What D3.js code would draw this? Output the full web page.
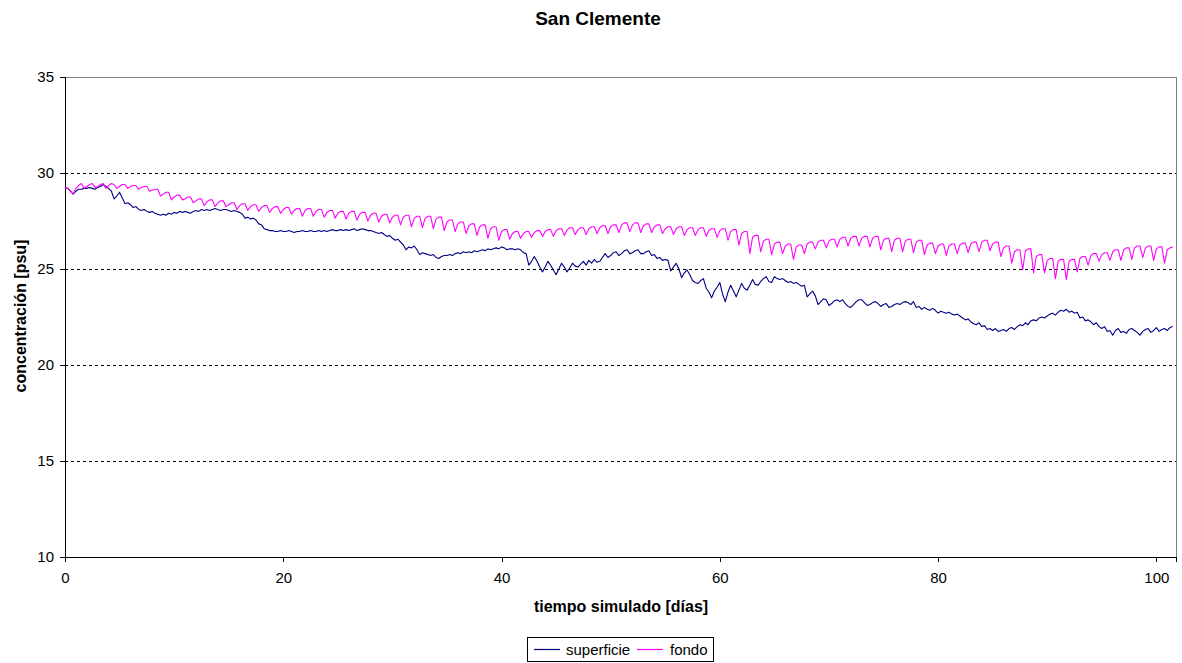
<!DOCTYPE html>
<html>
<head>
<meta charset="utf-8">
<script src="https://cdn.jsdelivr.net/npm/d3@7"></script>
<style>
  html, body { margin: 0; padding: 0; background: #fff; }
  svg { display: block; font-family: "Liberation Sans", Arial, sans-serif; }
</style>
</head>
<body>
<svg id="chart" width="1182" height="663"></svg>
<script>
// Salinity at San Clemente, sampled every 6 hours (0.25 day)
const stepDays = 0.25;

const superficie = [
  29.25,29.2,29.05,28.9, 29.05,29.15,29.15,29.2, 29.2,29.25,29.2,29.15, 29.25,29.3,29.4,29.3,
  29.2,29.05,28.65,28.8, 29.0,28.7,28.4,28.45, 28.35,28.2,28.25,28.1, 28.05,28.1,28.0,27.95,
  28.0,27.9,27.85,27.8, 27.85,27.8,27.9,27.85, 27.95,27.9,28.0,27.95, 28.0,27.95,27.9,28.0,
  28.05,28.0,28.1,28.05, 28.1,28.05,28.1,28.15, 28.1,28.05,28.1,28.1, 28.05,28.0,28.05,28.0,
  27.95,27.85,27.65,27.7, 27.6,27.65,27.55,27.35, 27.3,27.1,27.05,27.0, 27.0,26.95,26.95,27.0,
  26.95,26.95,27.0,26.95, 26.9,26.95,26.95,27.0, 26.95,26.95,27.0,26.95, 26.95,27.0,26.95,27.0,
  26.95,27.0,27.05,27.0, 27.0,27.05,27.0,27.05, 27.0,27.05,27.1,27.0, 27.05,27.1,27.05,27.0,
  27.0,26.95,26.9,26.85, 26.9,26.8,26.7,26.75, 26.6,26.5,26.55,26.4, 26.25,26.0,26.15,26.1,
  26.2,26.0,25.75,25.85, 25.8,25.75,25.7,25.75, 25.6,25.55,25.65,25.7, 25.7,25.75,25.7,25.8,
  25.85,25.8,25.9,25.85, 25.9,25.85,25.95,25.9, 25.95,26.0,25.95,26.05, 26.0,26.05,26.1,26.05,
  26.15,26.1,26.0,26.05, 26.05,26.0,26.05,26.0, 25.85,25.8,25.2,25.4, 25.65,25.4,25.1,24.85,
  25.1,25.4,25.2,24.95, 24.7,25.0,25.3,25.1, 24.85,25.05,25.3,25.15, 25.1,25.25,25.4,25.2,
  25.45,25.3,25.5,25.35, 25.4,25.6,25.8,25.6, 25.7,25.85,25.9,25.7, 25.8,25.95,26.0,25.8,
  25.85,25.95,26.0,25.8, 25.8,25.9,25.95,25.7, 25.75,25.55,25.6,25.45, 25.5,25.45,24.9,25.1,
  25.3,25.0,24.55,24.8, 24.95,24.7,24.4,24.3, 24.25,24.4,24.5,24.0, 23.8,23.5,23.85,24.05,
  24.3,23.7,23.3,23.8, 24.15,23.85,23.55,23.9, 24.25,24.0,23.9,24.15, 24.45,24.2,24.15,24.35,
  24.5,24.6,24.35,24.3, 24.6,24.5,24.45,24.5, 24.4,24.3,24.35,24.25, 24.3,24.2,24.1,24.15,
  23.55,23.7,23.85,23.6, 23.15,23.3,23.45,23.4, 23.1,23.2,23.35,23.4, 23.3,23.4,23.2,23.05,
  23.0,23.15,23.3,23.4, 23.4,23.25,23.1,23.15, 23.25,23.3,23.2,23.05, 23.15,23.2,23.0,23.05,
  23.15,23.2,23.15,23.25, 23.3,23.25,23.15,23.3, 23.0,23.05,22.9,23.0, 22.9,22.85,22.95,22.85,
  22.7,22.8,22.75,22.7, 22.75,22.65,22.6,22.65, 22.55,22.45,22.35,22.4, 22.25,22.15,22.1,22.2,
  22.0,22.05,21.85,21.9, 21.8,21.9,21.75,21.8, 21.85,21.75,21.9,21.95, 21.85,22.0,22.1,22.05,
  22.2,22.1,22.3,22.35, 22.3,22.45,22.5,22.45, 22.55,22.65,22.7,22.6, 22.75,22.85,22.8,22.9,
  22.75,22.8,22.7,22.75, 22.45,22.5,22.3,22.35, 22.25,22.1,22.2,22.0, 21.9,22.0,21.75,21.8,
  21.55,21.8,21.9,21.7, 21.75,21.65,21.85,21.9, 21.8,21.7,21.55,21.75, 21.85,21.9,21.7,21.8,
  21.95,21.75,21.85,21.9, 21.8,21.95,22.0
];

const fondo = [
  29.25,29.2,29.05,28.9, 29.2,29.35,29.45,29.2, 29.3,29.4,29.45,29.25, 29.3,29.4,29.45,29.2,
  29.35,29.45,29.4,29.2, 29.3,29.4,29.4,29.2, 29.3,29.35,29.35,29.15, 29.25,29.3,29.3,29.05,
  29.1,29.15,29.15,28.8, 28.9,29.0,29.0,28.6, 28.75,28.85,28.85,28.6, 28.65,28.75,28.75,28.45,
  28.55,28.65,28.65,28.3, 28.5,28.6,28.6,28.25, 28.45,28.55,28.55,28.25, 28.35,28.45,28.45,28.1,
  28.3,28.4,28.4,28.05, 28.25,28.35,28.35,28.0, 28.2,28.3,28.3,27.95, 28.15,28.25,28.25,27.9,
  28.1,28.2,28.2,27.85, 28.05,28.15,28.15,27.75, 28.05,28.15,28.15,27.75, 28.0,28.1,28.1,27.7,
  27.95,28.05,28.05,27.65, 27.9,28.0,28.0,27.6, 27.9,28.0,28.0,27.55, 27.85,27.95,27.95,27.5,
  27.8,27.9,27.9,27.45, 27.75,27.85,27.85,27.4, 27.7,27.8,27.8,27.3, 27.7,27.8,27.8,27.2,
  27.65,27.75,27.75,27.15, 27.65,27.75,27.75,27.1, 27.6,27.7,27.7,27.0, 27.45,27.55,27.55,26.95,
  27.35,27.45,27.45,26.85, 27.25,27.35,27.35,26.75, 27.2,27.3,27.3,26.6, 27.1,27.2,27.2,26.5,
  26.95,27.05,27.05,26.55, 26.85,26.95,26.95,26.6, 26.85,26.95,26.95,26.65, 26.9,27.0,27.0,26.7,
  26.95,27.05,27.05,26.7, 27.0,27.1,27.1,26.75, 27.05,27.15,27.15,26.8, 27.05,27.15,27.15,26.8,
  27.1,27.2,27.2,26.85, 27.15,27.25,27.25,26.85, 27.2,27.3,27.3,26.9, 27.3,27.4,27.4,26.95,
  27.3,27.4,27.4,26.9, 27.25,27.35,27.35,26.9, 27.2,27.3,27.3,26.85, 27.1,27.2,27.2,26.8,
  27.1,27.2,27.2,26.75, 27.05,27.15,27.15,26.75, 27.05,27.15,27.15,26.7, 27.0,27.1,27.1,26.65,
  27.0,27.1,27.1,26.5, 26.95,27.05,27.05,26.25, 26.85,26.95,26.95,25.8, 26.65,26.75,26.75,25.9,
  26.45,26.55,26.55,25.75, 26.3,26.4,26.4,25.8, 26.2,26.3,26.3,25.5, 26.15,26.25,26.25,25.8,
  26.3,26.4,26.4,26.05, 26.4,26.5,26.5,26.1, 26.45,26.55,26.55,26.15, 26.55,26.65,26.65,26.2,
  26.6,26.7,26.7,26.2, 26.6,26.7,26.7,26.15, 26.6,26.7,26.7,26.0, 26.5,26.6,26.6,25.9,
  26.5,26.6,26.6,25.9, 26.45,26.55,26.55,25.85, 26.4,26.5,26.5,25.75, 26.25,26.35,26.35,25.8,
  26.2,26.3,26.3,25.7, 26.2,26.3,26.3,25.8, 26.25,26.35,26.35,25.85, 26.3,26.4,26.4,25.9,
  26.4,26.5,26.5,25.95, 26.3,26.4,26.4,25.65, 26.1,26.2,26.2,25.3, 25.9,26.0,26.0,24.95,
  25.95,26.05,26.05,24.8, 25.65,25.75,25.75,24.8, 25.45,25.55,25.55,24.5, 25.4,25.5,25.5,24.45,
  25.4,25.5,25.5,24.85, 25.55,25.65,25.65,25.2, 25.7,25.8,25.8,25.4, 25.75,25.85,25.85,25.45,
  25.9,26.0,26.0,25.45, 26.0,26.1,26.1,25.5, 26.1,26.2,26.2,25.6, 26.1,26.2,26.2,25.45,
  26.05,26.15,26.15,25.3, 26.0,26.1,26.15
];

const yTicks = [10, 15, 20, 25, 30, 35];
const xTicks = [0, 20, 40, 60, 80, 100];
const gridValues = [15, 20, 25, 30];

const seriesNames = ["superficie", "fondo"];
const seriesColors = ["#000080", "#FF00FF"];

const svg = d3.select("#chart");
const plot = { left: 65, top: 77, right: 1176, bottom: 557 };

const x = d3.scaleLinear().domain([0, 101.8]).range([plot.left, plot.right]);
const y = d3.scaleLinear().domain([10, 35]).range([plot.bottom, plot.top]);

// Title
svg.append("text")
  .attr("x", 598).attr("y", 25)
  .attr("text-anchor", "middle")
  .attr("font-size", 19).attr("font-weight", "bold")
  .text("San Clemente");

// Dashed horizontal gridlines
svg.append("g").selectAll("line").data(gridValues).join("line")
  .attr("x1", plot.left).attr("x2", plot.right)
  .attr("y1", d => y(d)).attr("y2", d => y(d))
  .attr("stroke", "#000").attr("stroke-width", 1)
  .attr("stroke-dasharray", "3,3")
  .attr("shape-rendering", "crispEdges");

// Top and right frame in grey
svg.append("path")
  .attr("d", `M${plot.left},${plot.top}H${plot.right}V${plot.bottom}`)
  .attr("fill", "none").attr("stroke", "#808080")
  .attr("shape-rendering", "crispEdges");

// Axes
const xAxis = d3.axisBottom(x).tickValues(xTicks).tickSize(5).tickPadding(10);
const yAxis = d3.axisLeft(y).tickValues(yTicks).tickSize(5).tickPadding(6);

const gx = svg.append("g")
  .attr("transform", `translate(0,${plot.bottom})`)
  .call(xAxis);
const gy = svg.append("g")
  .attr("transform", `translate(${plot.left},0)`)
  .call(yAxis);

[gx, gy].forEach(g => {
  g.select(".domain").attr("stroke", "#000").attr("shape-rendering", "crispEdges");
  g.selectAll(".tick line").attr("stroke", "#000").attr("shape-rendering", "crispEdges");
  g.selectAll(".tick text")
    .attr("font-family", "'Liberation Sans', Arial, sans-serif")
    .attr("font-size", 15).attr("fill", "#000");
});

// Axis titles
svg.append("text")
  .attr("x", 621).attr("y", 612)
  .attr("text-anchor", "middle")
  .attr("font-size", 16).attr("font-weight", "bold")
  .text("tiempo simulado [días]");

svg.append("text")
  .attr("transform", "translate(26,316) rotate(-90)")
  .attr("text-anchor", "middle")
  .attr("font-size", 16).attr("font-weight", "bold")
  .text("concentración [psu]");

// Data lines
const line = d3.line()
  .x((d, i) => x(i * stepDays))
  .y(d => y(d));

[superficie, fondo].forEach((values, k) => {
  svg.append("path")
    .datum(values)
    .attr("fill", "none")
    .attr("stroke", seriesColors[k])
    .attr("stroke-width", 1.1)
    .attr("stroke-linejoin", "round")
    .attr("d", line);
});

// Legend
const legend = svg.append("g").attr("transform", "translate(527,637)");
legend.append("rect")
  .attr("x", 0.5).attr("y", 0.5).attr("width", 186).attr("height", 24)
  .attr("fill", "#fff").attr("stroke", "#000");
const legendItems = [{ x0: 7, tx: 39 }, { x0: 110, tx: 143 }];
seriesNames.forEach((name, k) => {
  legend.append("line")
    .attr("x1", legendItems[k].x0).attr("x2", legendItems[k].x0 + 26)
    .attr("y1", 12.5).attr("y2", 12.5)
    .attr("stroke", seriesColors[k]).attr("stroke-width", 1.2);
  legend.append("text")
    .attr("x", legendItems[k].tx).attr("y", 17.5)
    .attr("font-size", 15)
    .text(name);
});
</script>
</body>
</html>
